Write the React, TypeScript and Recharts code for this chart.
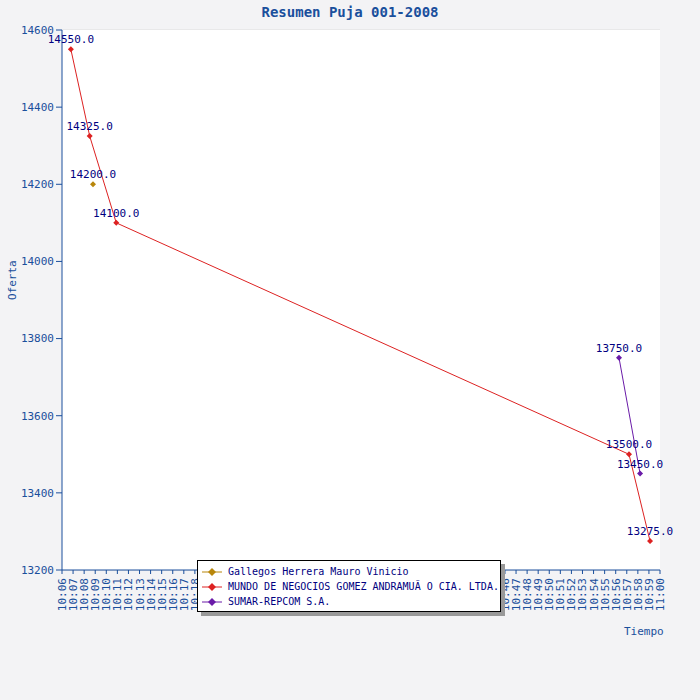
import { CartesianGrid, LabelList, Line, LineChart, XAxis, YAxis } from "recharts";

// minutes after 10:06
const gallegosT = [2.8];
const gallegosV = [14200];
const mundoT = [0.8, 2.5, 4.9, 51.2, 53.1];
const mundoV = [14550, 14325, 14100, 13500, 13275];
const sumarT = [50.3, 52.2];
const sumarV = [13750, 13450];

const Y_TICKS = [13200, 13400, 13600, 13800, 14000, 14200, 14400, 14600];
const X_TICKS = Array.from({ length: 55 }, (_, i) => i);

const SERIES = [
  { name: "Gallegos Herrera Mauro Vinicio", color: "#b8860b", t: gallegosT, v: gallegosV },
  { name: "MUNDO DE NEGOCIOS GOMEZ ANDRAMUÃ O CIA. LTDA.", color: "#dd2222", t: mundoT, v: mundoV },
  { name: "SUMAR-REPCOM S.A.", color: "#6a1ba8", t: sumarT, v: sumarV },
];

const FONT = "'DejaVu Sans Mono', monospace";
const BLUE = "#1a4f9c";

function fmtTime(m: number) {
  const total = 6 + m;
  const h = 10 + Math.floor(total / 60);
  const mm = total % 60;
  return `${h}:${String(mm).padStart(2, "0")}`;
}

function XTick({ x, y, payload }: any) {
  return (
    <text x={x + 4} y={y + 2} transform={`rotate(-90 ${x + 4} ${y + 2})`} textAnchor="end" fill={BLUE} fontSize={11} fontFamily={FONT}>
      {fmtTime(payload.value)}
    </text>
  );
}

function Diamond({ cx, cy, stroke }: any) {
  return <path d={`M${cx},${cy - 3}L${cx + 3},${cy}L${cx},${cy + 3}L${cx - 3},${cy}Z`} fill={stroke} />;
}

export default function App() {
  return (
    <div style={{ position: "absolute", left: 0, top: 0, width: 700, height: 700, background: "#f3f3f5", fontFamily: FONT }}>
      <div style={{ position: "absolute", top: 4, width: 700, textAlign: "center", color: BLUE, fontWeight: "bold", fontSize: 14 }}>
        Resumen Puja 001-2008
      </div>
      <LineChart width={700} height={700} margin={{ top: 30, right: 40, bottom: 100, left: 8 }}>
        <rect x={62} y={30} width={598} height={540} fill="#fff" />
        <CartesianGrid vertical={false} stroke="#ddd" />
        <XAxis
          type="number"
          dataKey="t"
          domain={[0, 54]}
          ticks={X_TICKS}
          interval={0}
          tick={<XTick />}
          stroke={BLUE}
          tickSize={4}
          allowDuplicatedCategory={false}
        />
        <YAxis
          type="number"
          domain={[13200, 14600]}
          ticks={Y_TICKS}
          width={54}
          stroke={BLUE}
          tick={{ fill: BLUE, fontSize: 11, fontFamily: FONT }}
          label={{ value: "Oferta", angle: -90, position: "insideLeft", offset: 4, fill: BLUE, fontSize: 11, fontFamily: FONT }}
        />
        {SERIES.map((s) => (
          <Line
            key={s.name}
            data={s.t.map((t, i) => ({ t, v: s.v[i] }))}
            dataKey="v"
            name={s.name}
            stroke={s.color}
            strokeWidth={1}
            dot={<Diamond />}
            activeDot={false}
            isAnimationActive={false}
          >
            <LabelList dataKey="v" position="top" offset={6} fill="#000080" fontSize={11} fontFamily={FONT} formatter={(v: any) => Number(v).toFixed(1)} />
          </Line>
        ))}
      </LineChart>
      <div style={{ position: "absolute", left: 624, top: 625, color: BLUE, fontSize: 11 }}>Tiempo</div>
      <div
        style={{
          position: "absolute",
          left: 197,
          top: 560,
          width: 304,
          height: 52,
          background: "#fff",
          border: "1px solid #000",
          boxShadow: "4px 4px 0 #999",
          fontSize: 10,
          color: "#000080",
          padding: "3px 0 0 4px",
          boxSizing: "border-box",
          whiteSpace: "nowrap",
        }}
      >
        {SERIES.map((s) => (
          <div key={s.name} style={{ display: "flex", alignItems: "center", height: 15 }}>
            <svg width={20} height={10} style={{ marginRight: 6 }}>
              <line x1={0} y1={5} x2={20} y2={5} stroke={s.color} />
              <path d="M10,1L14,5L10,9L6,5Z" fill={s.color} />
            </svg>
            {s.name}
          </div>
        ))}
      </div>
    </div>
  );
}
